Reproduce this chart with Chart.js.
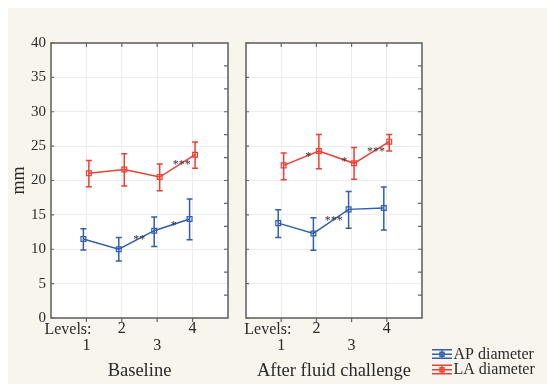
<!DOCTYPE html>
<html>
<head>
<meta charset="utf-8">
<script src="https://cdn.jsdelivr.net/npm/chart.js@4.4.1/dist/chart.umd.min.js"></script>
<style>
html, body { margin: 0; padding: 0; background: #ffffff; }
#bg { position: absolute; left: 8px; top: 8px; width: 539px; height: 376px; background: #f8f5ec; }
canvas { position: absolute; left: 0; top: 0; }
</style>
</head>
<body>
<div id="bg"></div>
<canvas id="c1" width="547" height="384"></canvas>
<canvas id="c2" width="547" height="384"></canvas>
<script>
// ---- data ----
const levels = [1, 2, 3, 4];
const yTickValues = [0, 5, 10, 15, 20, 25, 30, 35, 40];
const rightTickValues = [3.33, 6.67, 10, 13.33, 16.67, 20, 23.33, 26.67, 30, 33.33, 36.67];
const seriesNames = ['AP diameter', 'LA diameter'];
const panelTitles = ['Baseline', 'After fluid challenge'];
const axisTitle = 'mm';
const levelsLabel = 'Levels:';

const baselineAP     = [11.5, 10.0, 12.7, 14.4];
const baselineAPLow  = [9.9, 8.3, 10.4, 11.4];
const baselineAPHigh = [13.0, 11.7, 14.7, 17.3];
const baselineLA     = [21.05, 21.6, 20.5, 23.75];
const baselineLALow  = [19.1, 19.2, 18.5, 21.8];
const baselineLAHigh = [22.9, 23.9, 22.4, 25.6];

const afterAP     = [13.8, 12.3, 15.8, 16.0];
const afterAPLow  = [11.7, 9.85, 13.05, 12.8];
const afterAPHigh = [15.75, 14.6, 18.4, 19.05];
const afterLA     = [22.2, 24.3, 22.5, 25.65];
const afterLALow  = [20.1, 21.7, 20.2, 24.3];
const afterLAHigh = [24.0, 26.7, 24.8, 26.7];

// significance marks: series index, segment start level, fraction along segment, text
const baselineStars = [
  { series: 1, from: 3, t: 0.62, text: '***' },
  { series: 0, from: 2, t: 0.58, text: '**' },
  { series: 0, from: 3, t: 0.55, text: '*' }
];
const afterStars = [
  { series: 1, from: 1, t: 0.70, text: '*' },
  { series: 1, from: 2, t: 0.72, text: '*' },
  { series: 1, from: 3, t: 0.62, text: '***' },
  { series: 0, from: 2, t: 0.58, text: '***' }
];

// ---- styling ----
const COLORS = ['#2f5fae', '#ef3e33'];
const DODGE = [-0.085, 0.07];
const FONT = "'Liberation Serif', 'Times New Roman', serif";
const TEXT = '#2a2a2a';
const FRAME = '#666666';

function makeDatasets(apV, apL, apH, laV, laL, laH) {
  const sets = [[apV, apL, apH], [laV, laL, laH]];
  return sets.map((s, k) => ({
    label: seriesNames[k],
    data: levels.map((lv, i) => ({ x: lv + DODGE[k], y: s[0][i] })),
    errLow: s[1],
    errHigh: s[2],
    borderColor: COLORS[k],
    borderWidth: 1.5,
    pointStyle: 'rect',
    pointRadius: 3.4,
    pointBorderWidth: 1.2,
    pointBackgroundColor: 'rgba(255,255,255,0)',
    pointBorderColor: COLORS[k],
    tension: 0,
    fill: false
  }));
}

const decor = {
  id: 'decor',
  beforeDraw(chart) {
    const { ctx, chartArea: a } = chart;
    ctx.save();
    ctx.fillStyle = '#ffffff';
    ctx.fillRect(a.left, a.top, a.right - a.left, a.bottom - a.top);
    ctx.restore();
  },
  afterDatasetsDraw(chart) {
    const { ctx } = chart;
    const xs = chart.scales.x, ys = chart.scales.y;
    ctx.save();
    chart.data.datasets.forEach((ds) => {
      ctx.strokeStyle = ds.borderColor;
      ctx.lineWidth = 1.5;
      ds.data.forEach((p, j) => {
        const x = xs.getPixelForValue(p.x);
        const yl = ys.getPixelForValue(ds.errLow[j]);
        const yh = ys.getPixelForValue(ds.errHigh[j]);
        ctx.beginPath();
        ctx.moveTo(x, yl); ctx.lineTo(x, yh);
        ctx.moveTo(x - 3, yl); ctx.lineTo(x + 3, yl);
        ctx.moveTo(x - 3, yh); ctx.lineTo(x + 3, yh);
        ctx.stroke();
      });
    });
    ctx.restore();
  },
  afterDraw(chart, args, opts) {
    const { ctx, chartArea: a } = chart;
    const xs = chart.scales.x, ys = chart.scales.y;
    ctx.save();
    // frame
    ctx.strokeStyle = FRAME;
    ctx.lineWidth = 1.6;
    ctx.strokeRect(a.left, a.top, a.right - a.left, a.bottom - a.top);
    // tick marks
    ctx.lineWidth = 1.2;
    ctx.beginPath();
    yTickValues.forEach(v => {
      const y = ys.getPixelForValue(v);
      ctx.moveTo(a.left, y); ctx.lineTo(a.left + 3, y);
    });
    rightTickValues.forEach(v => {
      const y = ys.getPixelForValue(v);
      ctx.moveTo(a.right, y); ctx.lineTo(a.right - 4, y);
    });
    levels.forEach(v => {
      const x = xs.getPixelForValue(v);
      ctx.moveTo(x, a.top); ctx.lineTo(x, a.top + 4);
      ctx.moveTo(x, a.bottom); ctx.lineTo(x, a.bottom + 4);
    });
    ctx.stroke();

    // significance stars
    ctx.fillStyle = '#333333';
    ctx.font = '12px ' + FONT;
    ctx.textAlign = 'center';
    ctx.textBaseline = 'alphabetic';
    opts.stars.forEach(s => {
      const ds = chart.data.datasets[s.series];
      const p0 = ds.data[s.from - 1], p1 = ds.data[s.from];
      const xv = p0.x + (p1.x - p0.x) * s.t;
      const yv = p0.y + (p1.y - p0.y) * s.t;
      ctx.fillText(s.text, xs.getPixelForValue(xv), ys.getPixelForValue(yv) + 5);
    });

    // Levels: label
    ctx.fillStyle = TEXT;
    ctx.font = '16px ' + FONT;
    ctx.textBaseline = 'middle';
    ctx.fillText(levelsLabel, xs.getPixelForValue(opts.levelsX), a.bottom + 11.5);

    // panel title
    ctx.font = '18.5px ' + FONT;
    ctx.textBaseline = 'alphabetic';
    ctx.fillText(opts.title, (a.left + a.right) / 2, 375.5);

    // y title
    if (opts.yTitle) {
      ctx.save();
      ctx.translate(24, (a.top + a.bottom) / 2);
      ctx.rotate(-Math.PI / 2);
      ctx.font = '18px ' + FONT;
      ctx.textAlign = 'center';
      ctx.textBaseline = 'alphabetic';
      ctx.fillText(axisTitle, 0, 0);
      ctx.restore();
    }

    // legend
    if (opts.legend) {
      const x0 = a.right + 10, x1 = x0 + 20, xm = (x0 + x1) / 2;
      chart.data.datasets.forEach((ds, k) => {
        const yc = 354.3 + k * 15.5;
        ctx.strokeStyle = ds.borderColor;
        ctx.lineWidth = 1.4;
        ctx.beginPath();
        ctx.moveTo(x0, yc - 4.5); ctx.lineTo(x1, yc - 4.5);
        ctx.moveTo(x0, yc); ctx.lineTo(x1, yc);
        ctx.moveTo(x0, yc + 4); ctx.lineTo(x1, yc + 4);
        ctx.moveTo(xm, yc - 4.5); ctx.lineTo(xm, yc + 4);
        ctx.stroke();
        ctx.strokeRect(xm - 2, yc - 2, 4, 4);
        ctx.fillStyle = TEXT;
        ctx.font = '16px ' + FONT;
        ctx.textAlign = 'left';
        ctx.textBaseline = 'alphabetic';
        ctx.fillText(ds.label, x1 + 1.5, yc + 4.3);
      });
    }
    ctx.restore();
  }
};

function makeChart(id, datasets, pad, showYLabels, decorOpts) {
  return new Chart(document.getElementById(id), {
    type: 'line',
    data: { datasets },
    plugins: [decor],
    options: {
      responsive: false,
      animation: false,
      devicePixelRatio: 1,
      layout: { padding: pad },
      plugins: {
        legend: { display: false },
        tooltip: { enabled: false },
        decor: decorOpts
      },
      scales: {
        x: {
          type: 'linear',
          min: 0, max: 5,
          afterBuildTicks: (s) => { s.ticks = levels.map(v => ({ value: v })); },
          afterFit: (s) => { s.height = 66; },
          border: { display: false },
          grid: { color: '#ececec', lineWidth: 1, drawTicks: false },
          ticks: {
            padding: 3,
            color: TEXT,
            font: { family: FONT, size: 16, lineHeight: 1.03 },
            autoSkip: false,
            maxRotation: 0,
            callback: (v) => (v % 2 === 1 ? ['', String(v)] : [String(v)])
          }
        },
        y: {
          min: 0, max: 40,
          afterBuildTicks: (s) => { s.ticks = yTickValues.map(v => ({ value: v })); },
          afterFit: (s) => { s.width = showYLabels ? 51 : 0; },
          border: { display: false },
          grid: { color: '#ececec', lineWidth: 1, drawTicks: false },
          ticks: {
            display: showYLabels,
            padding: 5,
            color: TEXT,
            font: { family: FONT, size: 15 }
          }
        }
      }
    }
  });
}

makeChart('c1',
  makeDatasets(baselineAP, baselineAPLow, baselineAPHigh, baselineLA, baselineLALow, baselineLAHigh),
  { left: 0, top: 43, right: 319, bottom: 0 }, true,
  { title: panelTitles[0], levelsX: 0.48, stars: baselineStars, yTitle: true, legend: false });

makeChart('c2',
  makeDatasets(afterAP, afterAPLow, afterAPHigh, afterLA, afterLALow, afterLAHigh),
  { left: 246, top: 43, right: 125, bottom: 0 }, false,
  { title: panelTitles[1], levelsX: 0.62, stars: afterStars, yTitle: false, legend: true });
</script>
</body>
</html>
